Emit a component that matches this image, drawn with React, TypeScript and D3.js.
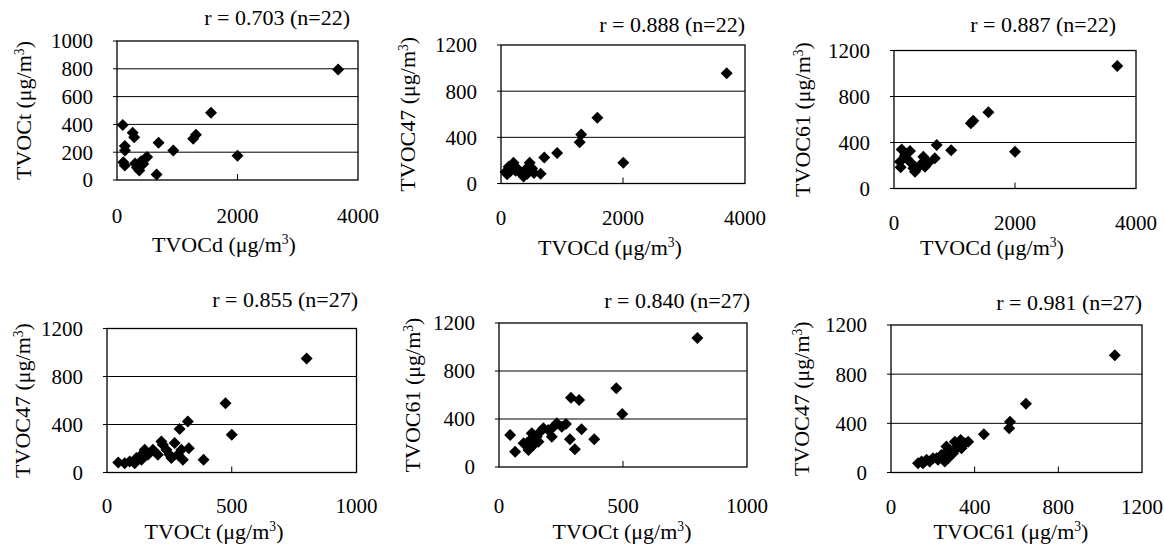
import React from "react";
import * as d3 from "d3";

// ---- data ----
const p1X = [3670, 1560, 95, 260, 285, 130, 133, 690, 935, 1265, 1310, 2000, 105, 130, 300, 370, 465, 435, 657, 400, 330, 500];
const p1Y = [795, 483, 395, 340, 308, 245, 212, 268, 212, 296, 325, 174, 128, 105, 118, 68, 152, 116, 40, 135, 90, 165];

const p2X = [3700, 1580, 1315, 1290, 920, 710, 2005, 650, 75, 125, 205, 265, 320, 370, 430, 470, 510, 540, 150, 100, 240, 400];
const p2Y = [955, 570, 425, 358, 265, 225, 180, 85, 100, 145, 180, 130, 92, 60, 85, 180, 130, 90, 105, 80, 110, 120];

const p3X = [3690, 1560, 1310, 1270, 2000, 945, 706, 675, 127, 264, 99, 110, 209, 292, 347, 386, 457, 485, 567, 182, 320, 512];
const p3Y = [1065, 664, 590, 568, 319, 333, 378, 262, 339, 327, 232, 184, 262, 218, 146, 175, 218, 276, 224, 290, 175, 189];

const p4X = [800, 475, 324, 291, 500, 218, 271, 328, 251, 304, 387, 184, 151, 138, 118, 111, 71, 45, 238, 204, 164, 224, 284, 258, 138, 91, 298];
const p4Y = [950, 578, 425, 362, 314, 258, 245, 203, 148, 106, 106, 189, 189, 148, 120, 78, 78, 83, 189, 148, 148, 231, 148, 120, 106, 92, 189];

const p5X = [800, 473, 497, 290, 323, 333, 384, 306, 286, 270, 233, 213, 45, 65, 179, 152, 132, 112, 119, 253, 166, 139, 99, 199, 126, 159, 220];
const p5Y = [1075, 656, 442, 578, 558, 314, 231, 147, 231, 358, 364, 253, 267, 128, 322, 253, 281, 197, 142, 336, 294, 183, 197, 308, 225, 211, 336];

const p6X = [1070, 645, 569, 565, 444, 353, 333, 313, 297, 265, 257, 241, 218, 185, 146, 129, 369, 318, 281, 249, 225, 170, 201, 153, 273, 337, 305];
const p6Y = [953, 560, 413, 359, 311, 238, 265, 197, 157, 211, 89, 143, 116, 89, 89, 76, 251, 224, 184, 143, 103, 103, 116, 76, 116, 197, 251];

const ticksD = [0, 2000, 4000];
const ticksT = [0, 500, 1000];
const ticks61 = [0, 400, 800, 1200];
const ticksY1000 = [0, 200, 400, 600, 800, 1000];
const ticksY1200 = [0, 400, 800, 1200];

const rLabels = ["r = 0.703 (n=22)", "r = 0.888 (n=22)", "r = 0.887 (n=22)", "r = 0.855 (n=27)", "r = 0.840 (n=27)", "r = 0.981 (n=27)"];
const xNames = ["TVOCd", "TVOCd", "TVOCd", "TVOCt", "TVOCt", "TVOC61"];
const yNames = ["TVOCt", "TVOC47", "TVOC61", "TVOC47", "TVOC61", "TVOC47"];

// ---- layout ----
const panels = [
  { xs: p1X, ys: p1Y, xt: ticksD, yt: ticksY1000, box: [117, 358, 41, 180], yTitleX: 31, xTitleX: 224, xTitleY: 252, tickY: 223, rEnd: 350, rY: 25 },
  { xs: p2X, ys: p2Y, xt: ticksD, yt: ticksY1200, box: [501, 745, 45, 183.5], yTitleX: 415, xTitleX: 610, xTitleY: 255, tickY: 225, rEnd: 745, rY: 32 },
  { xs: p3X, ys: p3Y, xt: ticksD, yt: ticksY1200, box: [894, 1136, 50.5, 188.5], yTitleX: 810, xTitleX: 992, xTitleY: 255, tickY: 230, rEnd: 1116, rY: 32 },
  { xs: p4X, ys: p4Y, xt: ticksT, yt: ticksY1200, box: [107, 356.5, 328.5, 472.5], yTitleX: 30, xTitleX: 214, xTitleY: 539, tickY: 513, rEnd: 358, rY: 307 },
  { xs: p5X, ys: p5Y, xt: ticksT, yt: ticksY1200, box: [499, 747, 323, 467], yTitleX: 420, xTitleX: 622, xTitleY: 539, tickY: 513, rEnd: 750, rY: 308 },
  { xs: p6X, ys: p6Y, xt: ticks61, yt: ticksY1200, box: [891, 1142, 325, 472.5], yTitleX: 809, xTitleX: 1011, xTitleY: 539, tickY: 514, rEnd: 1142, rY: 310 },
];

const FONT = "Liberation Serif, Times New Roman, Times, DejaVu Serif, serif";
const diamond = d3.symbol(d3.symbolSquare, 72)()!;

function Unit({ name }: { name: string }) {
  return (
    <>
      {name} (μg/m
      <tspan fontSize="0.62em" dy="-0.55em">3</tspan>
      <tspan dy="0.34em">)</tspan>
    </>
  );
}

function Panel({ p, i }: { p: any; i: number }) {
  const [l, r, t, b] = p.box;
  const x = d3.scaleLinear().domain([p.xt[0], p.xt[p.xt.length - 1]]).range([l, r]);
  const y = d3.scaleLinear().domain([p.yt[0], p.yt[p.yt.length - 1]]).range([b, t]);
  const midY = (t + b) / 2;
  return (
    <g>
      {p.yt.slice(1, -1).map((v: number) => (
        <line key={"g" + v} x1={l} x2={r} y1={y(v)} y2={y(v)} stroke="#000" strokeWidth={1} />
      ))}
      {p.yt.map((v: number) => (
        <line key={"yt" + v} x1={l - 4} x2={l} y1={y(v)} y2={y(v)} stroke="#000" strokeWidth={1} />
      ))}
      {p.xt.slice(1, -1).map((v: number) => (
        <line key={"xt" + v} x1={x(v)} x2={x(v)} y1={b} y2={b - 6} stroke="#000" strokeWidth={1} />
      ))}
      <rect x={l} y={t} width={r - l} height={b - t} fill="none" stroke="#000" strokeWidth={1.3} />
      {p.xs.map((v: number, k: number) => (
        <path key={"d" + k} d={diamond} transform={`translate(${x(v)},${y(p.ys[k])}) rotate(45)`} fill="#000" />
      ))}
      {p.yt.map((v: number) => (
        <text key={"yl" + v} x={l - 24} y={y(v)} dy="0.35em" textAnchor="end" fontSize={21}>
          {v}
        </text>
      ))}
      {p.xt.map((v: number) => (
        <text key={"xl" + v} x={x(v)} y={p.tickY} textAnchor="middle" fontSize={21}>
          {v}
        </text>
      ))}
      <text x={p.xTitleX} y={p.xTitleY} textAnchor="middle" fontSize={22}>
        <Unit name={xNames[i]} />
      </text>
      <text transform={`translate(${p.yTitleX},${midY}) rotate(-90)`} textAnchor="middle" fontSize={22}>
        <Unit name={yNames[i]} />
      </text>
      <text x={p.rEnd} y={p.rY} textAnchor="end" fontSize={22}>
        {rLabels[i]}
      </text>
    </g>
  );
}

export default function App() {
  return (
    <svg width={1164} height={546} style={{ position: "absolute", left: 0, top: 0, background: "#fff", fontFamily: FONT }}>
      <rect width={1164} height={546} fill="#fff" />
      {panels.map((p, i) => (
        <Panel key={i} p={p} i={i} />
      ))}
    </svg>
  );
}
